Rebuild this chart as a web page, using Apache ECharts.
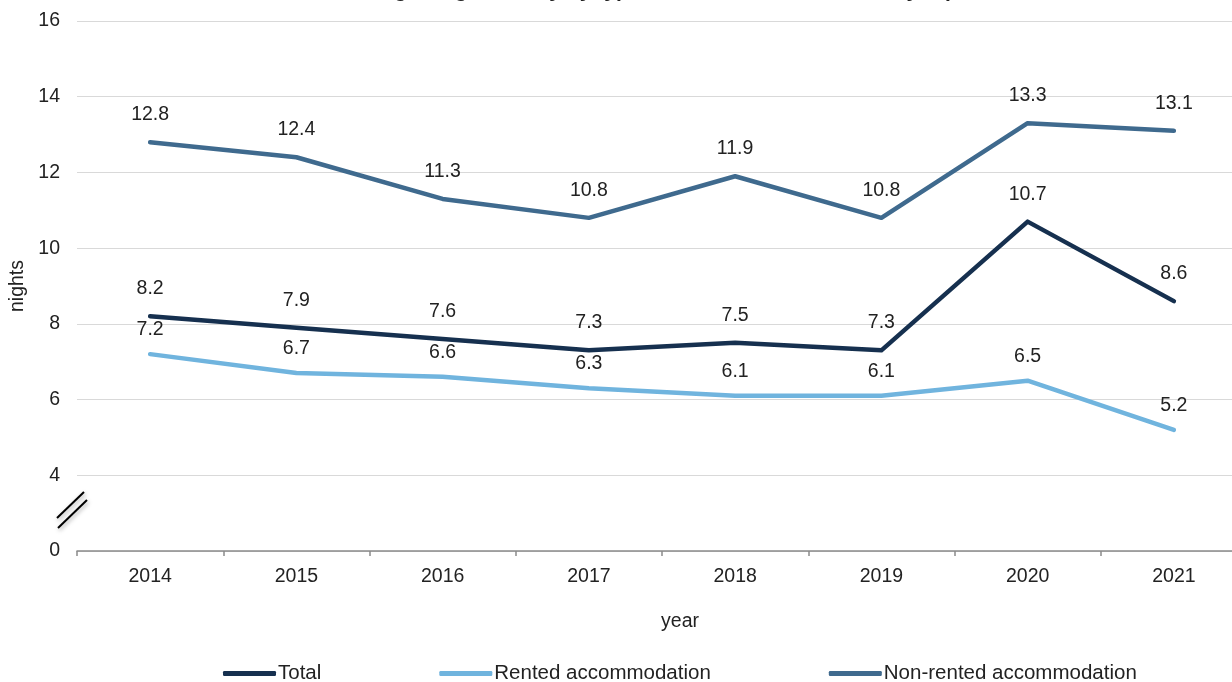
<!DOCTYPE html>
<html>
<head>
<meta charset="utf-8">
<script src="https://cdn.jsdelivr.net/npm/echarts@6/dist/echarts.min.js"></script>
<style>
html,body{margin:0;padding:0;background:#fff;}
#chart{width:1232px;height:682px;}
</style>
</head>
<body>
<div id="chart"></div>
<script>
var titleText = 'Average length of stay by type of accommodation, holiday trips';
var years = ['2014','2015','2016','2017','2018','2019','2020','2021'];
var totalValues = [8.2, 7.9, 7.6, 7.3, 7.5, 7.3, 10.7, 8.6];
var rentedValues = [7.2, 6.7, 6.6, 6.3, 6.1, 6.1, 6.5, 5.2];
var nonRentedValues = [12.8, 12.4, 11.3, 10.8, 11.9, 10.8, 13.3, 13.1];
var seriesNames = ['Total', 'Rented accommodation', 'Non-rented accommodation'];
var yTickLabels = {2: '0', 4: '4', 6: '6', 8: '8', 10: '10', 12: '12', 14: '14', 16: '16'};

var FONT = '"Liberation Sans", Arial, sans-serif';
var FS = 19.5;
var chart = echarts.init(document.getElementById('chart'), null, {renderer: 'canvas'});

function lineSeries(name, data, color, dist) {
  return {
    name: name,
    type: 'line',
    data: data,
    symbol: 'circle',
    symbolSize: 1,
    showSymbol: true,
    showAllSymbol: true,
    lineStyle: {width: 4.5, color: color, cap: 'round', join: 'round'},
    itemStyle: {color: color, borderWidth: 0},
    label: {
      show: true, position: 'top', distance: dist,
      color: '#222', fontSize: FS, fontFamily: FONT,
      formatter: function (p) { return p.value.toFixed(1); }
    },
    emphasis: {disabled: true},
    z: 3
  };
}

chart.setOption({
  animation: false,
  backgroundColor: '#fff',
  title: {
    text: titleText,
    left: 648, top: -24, textAlign: 'center',
    textStyle: {fontSize: 21, fontWeight: 'bold', color: '#222', fontFamily: FONT}
  },
  grid: {left: 77, top: 21, width: 1170, height: 530, containLabel: false, outerBoundsMode: 'none'},
  legend: {
    left: 218, top: 658,
    itemWidth: 53, itemHeight: 5, itemGap: 118,
    icon: 'roundRect',
    textStyle: {fontSize: 20.5, color: '#222', fontFamily: FONT, padding: [0,0,0,-3]},
    data: seriesNames
  },
  xAxis: {
    type: 'category',
    data: years,
    boundaryGap: true,
    name: 'year',
    nameLocation: 'middle',
    nameGap: 61,
    nameTextStyle: {fontSize: FS, color: '#222', fontFamily: FONT, padding: [0,0,0,36]},
    axisLine: {lineStyle: {color: '#8a8a8a', width: 1.5}},
    axisTick: {show: true, length: 5, lineStyle: {color: '#8a8a8a', width: 1.5}},
    axisLabel: {fontSize: FS, color: '#222', fontFamily: FONT, margin: 16},
    splitLine: {show: false}
  },
  yAxis: {
    type: 'value',
    min: 2, max: 16, interval: 2,
    name: 'nights',
    nameLocation: 'middle',
    nameGap: 45,
    nameRotate: 90,
    nameTextStyle: {fontSize: FS, color: '#222', fontFamily: FONT},
    axisLine: {show: false},
    axisTick: {show: false},
    axisLabel: {
      fontSize: FS, color: '#222', fontFamily: FONT, margin: 17,
      formatter: function (v) { return yTickLabels[v] !== undefined ? yTickLabels[v] : ''; }
    },
    splitLine: {lineStyle: {color: '#d9d9d9', width: 1}}
  },
  graphic: [
    {type: 'line', shape: {x1: 57, y1: 518, x2: 84, y2: 492},
     style: {stroke: '#000', lineWidth: 2, shadowBlur: 4, shadowColor: 'rgba(0,0,0,0.35)', shadowOffsetX: 1, shadowOffsetY: 2}, z: 10},
    {type: 'line', shape: {x1: 58, y1: 528, x2: 87, y2: 500},
     style: {stroke: '#000', lineWidth: 2, shadowBlur: 4, shadowColor: 'rgba(0,0,0,0.35)', shadowOffsetX: 1, shadowOffsetY: 2}, z: 10}
  ],
  series: [
    lineSeries(seriesNames[0], totalValues, '#16304f', 17),
    lineSeries(seriesNames[1], rentedValues, '#70b4de', 14),
    lineSeries(seriesNames[2], nonRentedValues, '#3f6a8e', 17)
  ]
});
</script>
</body>
</html>
